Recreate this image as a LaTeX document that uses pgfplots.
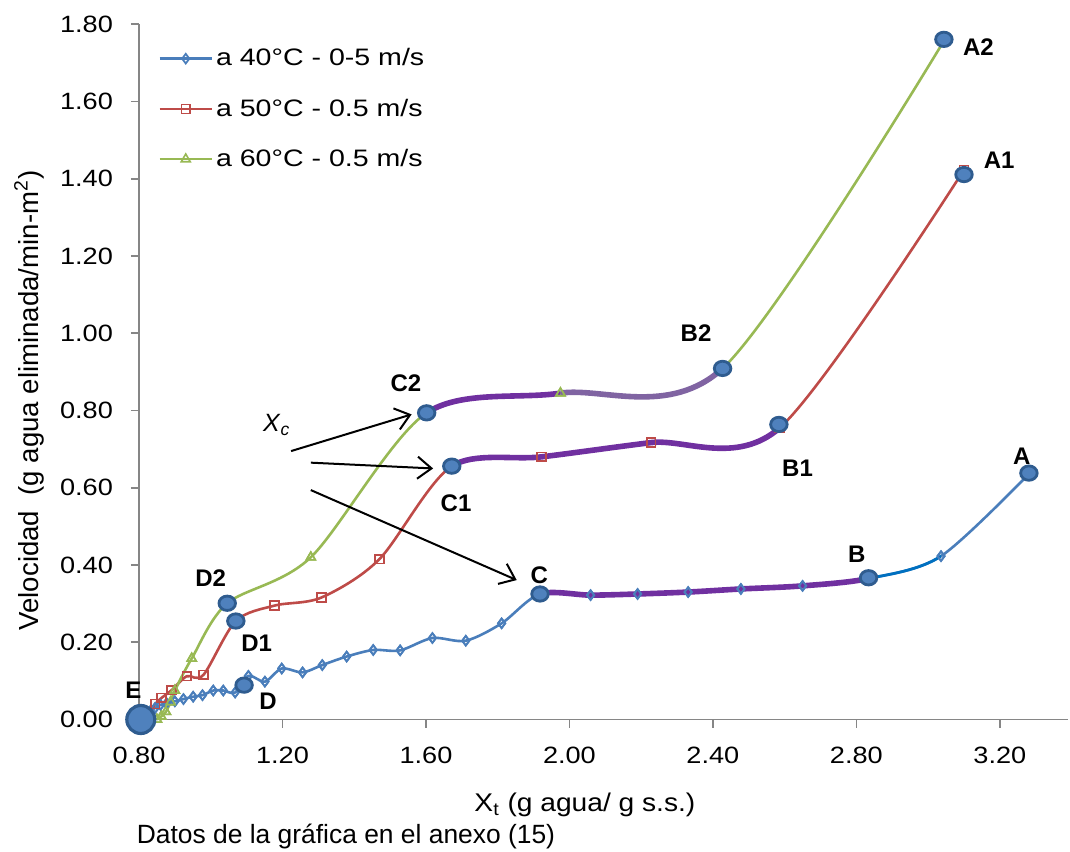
\documentclass[border=0pt]{standalone}
\usepackage{fontspec}
\setmainfont{Liberation Sans}
\newfontfamily\tickfont{Liberation Sans}[FakeStretch=1.15]
\newfontfamily\legfont{Liberation Sans}[FakeStretch=1.2]
\newfontfamily\xlabfont{Liberation Sans}[FakeStretch=1.1]
\usepackage{pgfplots}
\pgfplotsset{compat=1.18}
\usepackage{pgfplotstable}
\usetikzlibrary{arrows.meta}

\definecolor{sblue}{HTML}{4A7EBB}
\definecolor{bblue}{HTML}{0070C0}
\definecolor{sred}{HTML}{BE4B48}
\definecolor{sgreen}{HTML}{98B954}
\definecolor{purp}{HTML}{7030A0}
\definecolor{lpurp}{HTML}{8064A2}
\definecolor{cfill}{HTML}{4F81BD}
\definecolor{cdraw}{HTML}{2F5C8F}
\definecolor{axgray}{HTML}{868686}

\pgfplotstableread{
x y
0.805 0.000
0.830 0.020
0.845 0.030
0.860 0.038
0.877 0.042
0.900 0.047
0.924 0.053
0.951 0.059
0.977 0.063
1.007 0.075
1.035 0.075
1.068 0.070
1.105 0.113
1.151 0.098
1.198 0.132
1.256 0.122
1.311 0.141
1.379 0.163
1.453 0.180
1.528 0.179
1.618 0.211
1.711 0.204
1.811 0.249
1.918 0.325
2.059 0.322
2.190 0.325
2.331 0.330
2.478 0.338
2.650 0.346
2.834 0.365
3.036 0.423
3.281 0.636
}\tblue

\pgfplotstableread{
x y
0.820 0.005
0.845 0.040
0.863 0.056
0.891 0.076
0.933 0.112
0.980 0.116
1.070 0.255
1.178 0.295
1.309 0.316
1.470 0.415
1.672 0.656
1.922 0.680
2.228 0.717
2.586 0.755
3.100 1.423
}\tred

\pgfplotstableread{
x y
0.850 0.000
0.862 0.008
0.875 0.020
0.888 0.045
0.900 0.075
0.947 0.158
1.046 0.301
1.279 0.420
1.602 0.794
1.975 0.845
2.427 0.909
3.044 1.757
}\tgreen

\pgfplotstableread{
x y
1.093 0.089
1.070 0.255
1.046 0.301
1.918 0.325
1.672 0.656
1.602 0.794
2.834 0.367
2.584 0.764
2.427 0.909
3.281 0.638
3.100 1.411
3.044 1.761
}\tkey

\pgfplotstableread{
x y
0.805 0.000
}\tE

\begin{document}
\begin{tikzpicture}
\begin{axis}[
  scale only axis, width=464.5pt, height=347.6pt,
  xmin=0.8, xmax=3.39, ymin=0, ymax=1.8,
  axis x line*=bottom, axis y line*=left,
  axis line style={axgray, line width=0.8pt, -},
  tick align=outside, tick style={axgray, line width=0.8pt}, major tick length=4pt,
  xtick={0.8,1.2,1.6,2.0,2.4,2.8,3.2},
  ytick={0,0.2,0.4,0.6,0.8,1.0,1.2,1.4,1.6,1.8},
  /pgf/number format/.cd, fixed, fixed zerofill, precision=2, assume math mode=true,
  /pgfplots/.cd,
  tick label style={font=\tickfont\fontsize{11.8}{14}\selectfont, black},
  yticklabel style={xshift=-5.5pt},
  xticklabel style={yshift=-6pt},
  clip=false,
  xlabel={\xlabfont\fontsize{12.8}{15}\selectfont X\textsubscript{t} (g agua/ g s.s.)},
  xlabel style={at={(axis description cs:0.480,-0.123)}, anchor=center},
  ylabel={\fontsize{13.8}{16}\selectfont Velocidad\ \ (g agua eliminada/min-m\textsuperscript{2})},
  ylabel style={at={(axis description cs:-0.1184,0.790)}, anchor=east, inner sep=0pt},
  legend style={draw=none, fill=none, at={(axis description cs:0.0205,0.970)}, anchor=north west,
    font=\legfont\fontsize{11.9}{14}\selectfont, inner sep=0pt, row sep=12pt,
    nodes={inner sep=1.5pt}},
  legend cell align=left,
  legend image code/.code={\draw[#1, mark repeat=2, mark phase=2] plot coordinates {(0pt,0pt) (13pt,0pt) (26pt,0pt)};},
]
% main series
\addplot[sblue, line width=1.3pt, smooth, mark=diamond, mark size=2.4pt, mark options={solid, line width=0.9pt, sblue}] table {\tblue};
\addlegendentry{a 40°C - 0-5 m/s}
\addplot[sred, line width=1.3pt, smooth, mark=square, mark size=2.2pt, mark options={solid, line width=0.8pt, sred, fill=white}] table {\tred};
\addlegendentry{a 50°C - 0.5 m/s}
\addplot[sgreen, line width=1.3pt, smooth, mark=triangle, mark size=2.6pt, mark options={solid, line width=0.8pt, sgreen, fill=white}] table {\tgreen};
\addlegendentry{a 60°C - 0.5 m/s}

% constant-rate highlights
\begin{scope}
\clip (axis cs:1.918,0) rectangle (axis cs:2.834,1.8);
\addplot[purp, line width=2.8pt, smooth, no marks, forget plot] table {\tblue};
\end{scope}
\begin{scope}
\clip (axis cs:2.834,0) rectangle (axis cs:3.036,1.8);
\addplot[bblue, line width=1.4pt, smooth, no marks, forget plot] table {\tblue};
\end{scope}
\begin{scope}
\clip (axis cs:1.672,0) rectangle (axis cs:2.584,1.8);
\addplot[purp, line width=2.8pt, smooth, no marks, forget plot] table {\tred};
\end{scope}
\begin{scope}
\clip (axis cs:1.602,0) rectangle (axis cs:1.975,1.8);
\addplot[purp, line width=2.8pt, smooth, no marks, forget plot] table {\tgreen};
\end{scope}
\begin{scope}
\clip (axis cs:1.975,0) rectangle (axis cs:2.427,1.8);
\addplot[lpurp, line width=2.8pt, smooth, no marks, forget plot] table {\tgreen};
\end{scope}

% markers again on top
\addplot[only marks, forget plot, mark=diamond, mark size=2.4pt, mark options={solid, line width=0.9pt, sblue}] table {\tblue};
\addplot[only marks, forget plot, mark=square, mark size=2.2pt, mark options={solid, line width=0.8pt, sred}] table {\tred};
\addplot[only marks, forget plot, mark=triangle, mark size=2.6pt, mark options={solid, line width=0.8pt, sgreen}] table {\tgreen};

% key points
\addplot[only marks, forget plot, mark=*, mark size=3.6pt, mark options={xscale=1.15, fill=cfill, draw=cdraw, line width=1.4pt}] table {\tkey};
\addplot[only marks, forget plot, mark=*, mark size=7pt, mark options={fill=cfill, draw=cdraw, line width=1.6pt}] table {\tE};

% labels
\begin{scope}[every node/.style={font=\bfseries\fontsize{12}{14}\selectfont, anchor=center}]
\node at (axis cs:3.140,1.741) {A2};
\node at (axis cs:3.198,1.449) {A1};
\node at (axis cs:2.353,1.001) {B2};
\node at (axis cs:2.636,0.650) {B1};
\node at (axis cs:3.261,0.682) {A};
\node at (axis cs:2.801,0.428) {B};
\node at (axis cs:1.544,0.870) {C2};
\node at (axis cs:1.684,0.559) {C1};
\node at (axis cs:1.916,0.374) {C};
\node at (axis cs:1.000,0.365) {D2};
\node at (axis cs:1.128,0.197) {D1};
\node at (axis cs:1.160,0.046) {D};
\node at (axis cs:0.784,0.076) {E};
\end{scope}
\node[font=\fontsize{12.5}{14}\selectfont] at (axis cs:1.184,0.762) {\textit{X}\textsubscript{\textit{c}}};

% arrows
\draw[black, line width=1pt, -{Straight Barb[length=7pt,width=11pt,line width=1pt]}] (axis cs:1.224,0.695) -- (axis cs:1.560,0.790);
\draw[black, line width=1pt, -{Straight Barb[length=7pt,width=11pt,line width=1pt]}] (axis cs:1.279,0.665) -- (axis cs:1.620,0.650);
\draw[black, line width=1pt, -{Straight Barb[length=7pt,width=11pt,line width=1pt]}] (axis cs:1.279,0.594) -- (axis cs:1.853,0.361);

\node[anchor=west, font=\fontsize{13.2}{15}\selectfont, inner sep=0pt] at (axis description cs:-0.0027,-0.1686) {Datos de la gráfica en el anexo (15)};
\end{axis}
\pgfresetboundingbox
\path (-69.5pt,-65.75pt) rectangle (465.5pt,359.75pt);
\end{tikzpicture}
\end{document}
